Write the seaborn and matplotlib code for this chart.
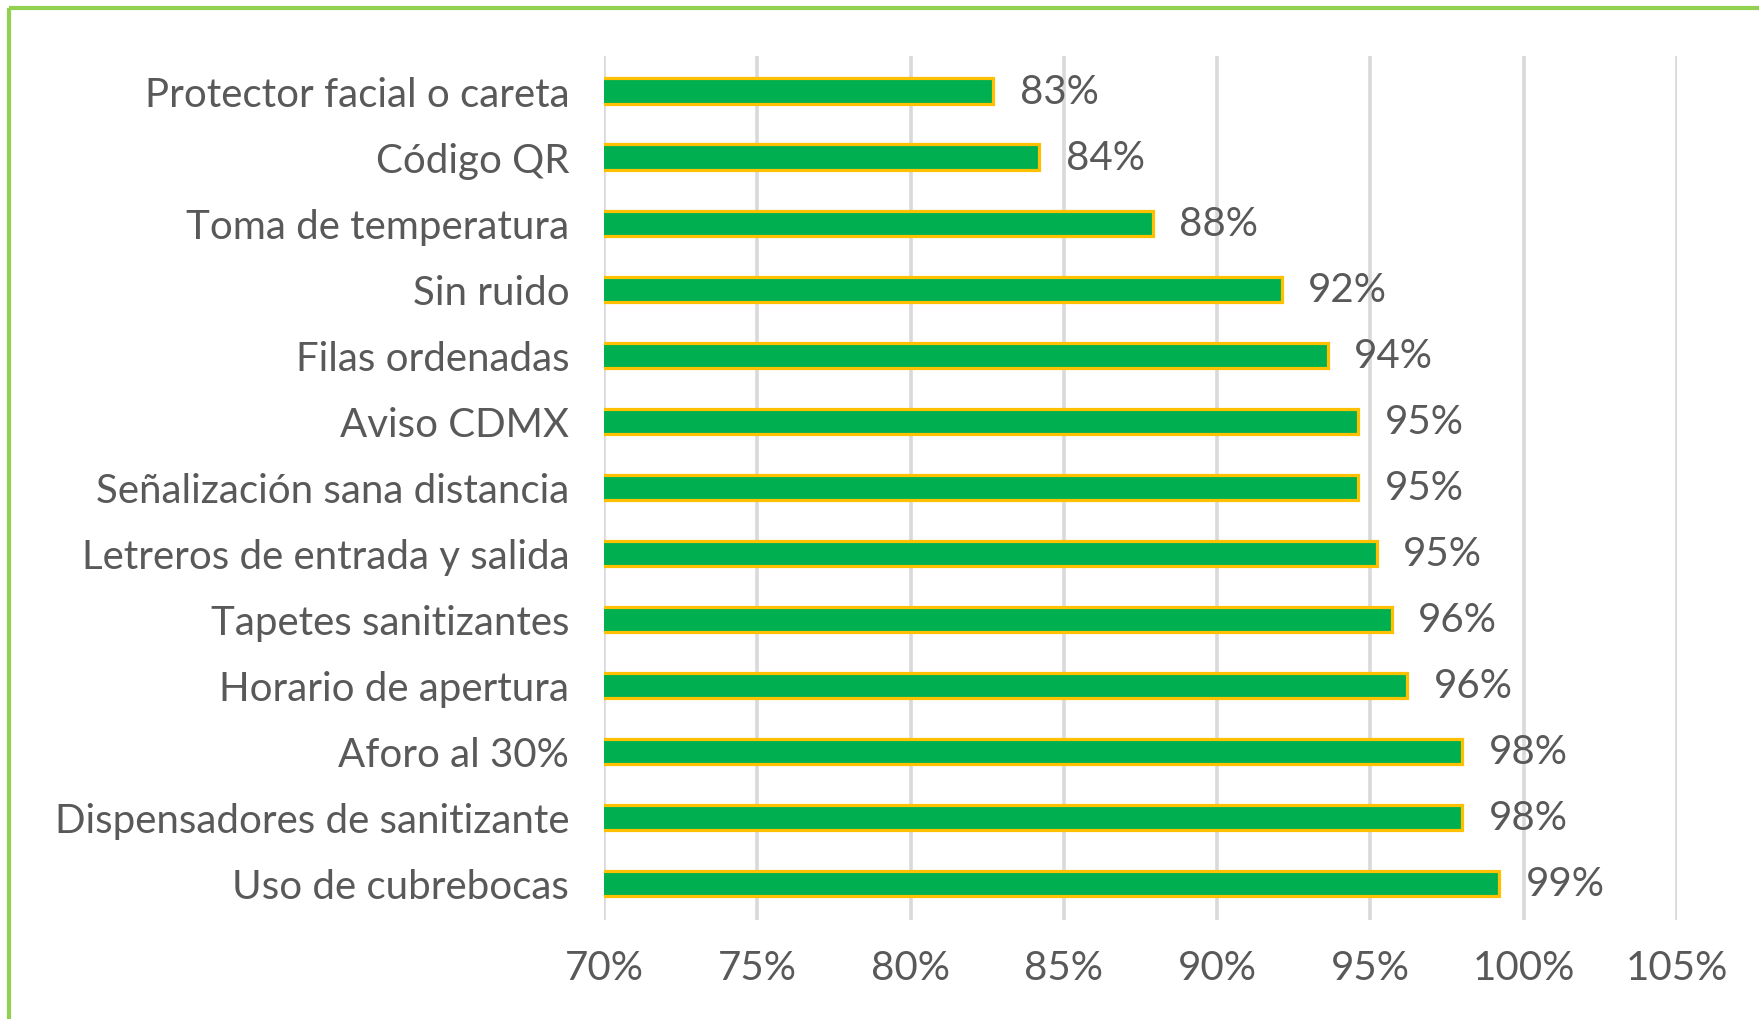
import matplotlib
matplotlib.use("Agg")
import matplotlib.pyplot as plt
import seaborn as sns
import pandas as pd
from matplotlib.lines import Line2D

categories = [
    "Protector facial o careta",
    "Código QR",
    "Toma de temperatura",
    "Sin ruido",
    "Filas ordenadas",
    "Aviso CDMX",
    "Señalización sana distancia",
    "Letreros de entrada y salida",
    "Tapetes sanitizantes",
    "Horario de apertura",
    "Aforo al 30%",
    "Dispensadores de sanitizante",
    "Uso de cubrebocas",
]
values = [82.7, 84.2, 87.9, 92.1, 93.6, 94.6, 94.6, 95.2, 95.7, 96.2, 98.0, 98.0, 99.2]
tick_values = [70, 75, 80, 85, 90, 95, 100, 105]
tick_labels = [f"{t}%" for t in tick_values]

df = pd.DataFrame({"categoria": categories, "valor": values})

sns.set_theme(style="white")
plt.rcParams['font.family'] = ['Lato', 'DejaVu Sans']

TEXT = "#595959"
FS = 29
fig = plt.figure(figsize=(17.59, 10.2), dpi=100)
ax = fig.add_axes([0.3434, 0.0974, 0.6100, 0.8467])

sns.barplot(data=df, x="valor", y="categoria", orient="h", color="#00B050",
            saturation=1, edgecolor="#FFC000", linewidth=2.3, width=0.38, ax=ax)

ax.set_xlim(70, 105)
ax.set_ylim(12.55, -0.53)
ax.set_xticks(tick_values)
ax.set_xticklabels(tick_labels)
ax.set_xlabel("")
ax.set_ylabel("")
ax.set_axisbelow(True)
ax.xaxis.grid(True, color="#D9D9D9", linewidth=2.6)
ax.yaxis.grid(False)
for s in ax.spines.values():
    s.set_visible(False)
ax.tick_params(axis="x", length=0, pad=21, labelsize=FS, labelcolor=TEXT)
ax.tick_params(axis="y", length=0, pad=25, labelsize=FS, labelcolor=TEXT)

ax.bar_label(ax.containers[0], labels=[f"{v:.0f}%" for v in values],
             padding=19, fontsize=FS, color=TEXT)

# green frame lines (top and left)
fig.add_artist(Line2D([0.0054, 1.0], [0.9912, 0.9912], transform=fig.transFigure,
                      color="#92D050", linewidth=3.0, solid_capstyle="butt"))
fig.add_artist(Line2D([0.0054, 0.0054], [0.0, 0.9912], transform=fig.transFigure,
                      color="#92D050", linewidth=3.0, solid_capstyle="butt"))

fig.savefig("out.png", dpi=100, facecolor="white")
